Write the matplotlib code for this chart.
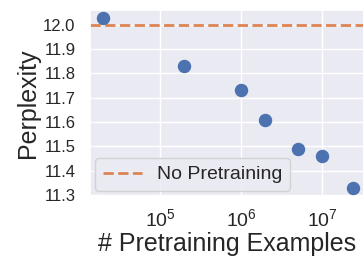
import matplotlib
matplotlib.use("Agg")
import matplotlib.pyplot as plt
import seaborn as sns

# data
examples = [2e4, 2e5, 1e6, 2e6, 5e6, 1e7, 2.4e7]
perplexity = [12.027, 11.83, 11.73, 11.61, 11.49, 11.46, 11.33]
no_pretrain = 12.0

sns.set_theme(style="darkgrid")
plt.rcParams['font.family'] = ['Liberation Sans', 'DejaVu Sans']

fig = plt.figure(figsize=(3.63, 2.61), dpi=100)
ax = fig.add_axes([90 / 363, 65 / 261, 275 / 363, 186 / 261])

ax.scatter(examples, perplexity, s=75, color=sns.color_palette()[0], zorder=3)
ax.axhline(no_pretrain, color=sns.color_palette()[1], linestyle='--', linewidth=2,
           label='No Pretraining')

ax.set_xscale('log')
ax.set_xlim(10 ** 4.136, 10 ** 7.531)
ax.set_ylim(11.295, 12.061)
ax.set_yticks([11.3, 11.4, 11.5, 11.6, 11.7, 11.8, 11.9, 12.0])
ax.tick_params(axis='y', labelsize=12, pad=4.5)
ax.tick_params(axis='x', labelsize=14, pad=3)
ax.set_xlabel('# Pretraining Examples', fontsize=18, labelpad=1)
ax.set_ylabel('Perplexity', fontsize=18, labelpad=2)
ax.legend(loc='lower left', fontsize=14, borderaxespad=0.25)

fig.savefig('out.png', dpi=100)
